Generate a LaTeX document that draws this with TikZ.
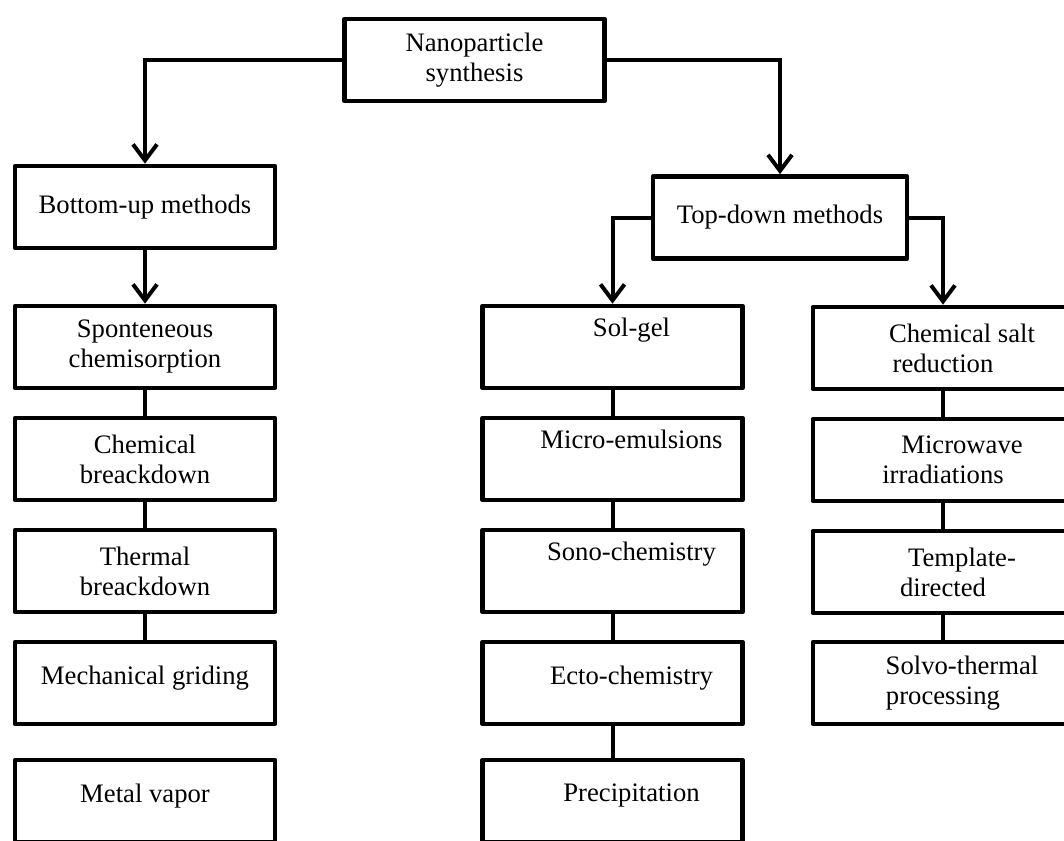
\documentclass[tikz,border=0pt]{standalone}
\usepackage{fontspec}
\setmainfont{Liberation Serif}
\usetikzlibrary{arrows.meta}
\newcommand{\tbindent}{\hspace*{28.5pt}}

\begin{document}
\begin{tikzpicture}[x=0.75pt,y=-0.75pt,font=\fontsize{20}{22.5}\selectfont,
  box/.style={draw,line width=3.5pt,line join=round,minimum width=195pt,minimum height=61.5pt,inner sep=0pt,align=center},
  lift/.style={text depth=12pt},
  conn/.style={line width=3pt},
  arr/.style={conn,-{Straight Barb[length=12pt,width=18pt]}}]
  \useasboundingbox (0,0) rectangle (1064,840);
  \clip (0,0) rectangle (1064,840);
  % Root and the two families
  \node[box] (nps) at (474.5,60) {Nanoparticle\\synthesis};
  \node[box] (bup) at (145,207) {Bottom-up methods};
  \node[box,minimum width=190.5pt] (tdn) at (780,217.5) {Top-down methods};
  % Bottom-up column
  \node[box] (spc) at (145,347) {Sponteneous\\chemisorption};
  \node[box] (chb) at (145,459) {Chemical\\breackdown};
  \node[box] (thb) at (145,571) {Thermal\\breackdown};
  \node[box,lift] (mgr) at (145,683) {Mechanical griding};
  \node[box,lift] (mvp) at (145,801) {Metal vapor};
  % Top-down, first column
  \node[box] (slg) at (612.5,347) {\tbindent Sol-gel\\\strut};
  \node[box] (mem) at (612.5,459) {\tbindent Micro-emulsions\\\strut};
  \node[box] (son) at (612.5,571) {\tbindent Sono-chemistry\\\strut};
  \node[box,lift] (ect) at (612.5,683) {\tbindent Ecto-chemistry};
  \node[box,lift] (pre) at (612.5,801) {\tbindent Precipitation};
  % Top-down, second column
  \node[box] (csr) at (943,348) {\tbindent Chemical salt\\reduction};
  \node[box] (mwi) at (943,460) {\tbindent Microwave\\irradiations};
  \node[box] (tpd) at (943,572) {\tbindent Template-\\directed};
  \node[box] (stp) at (943,683) {\tbindent Solvo-thermal\\processing};
  % Branches
  \draw[arr] (nps.west) -| (bup.north);
  \draw[arr] (nps.east) -| (tdn.north);
  \draw[arr] (bup) -- (spc);
  \draw[arr] (tdn.west) -| (slg.north);
  \draw[arr] (tdn.east) -| (csr.north);
  % Links inside the columns
  \draw[conn] (spc) -- (chb);
  \draw[conn] (chb) -- (thb);
  \draw[conn] (thb) -- (mgr);
  \draw[conn] (slg) -- (mem);
  \draw[conn] (mem) -- (son);
  \draw[conn] (son) -- (ect);
  \draw[conn] (ect) -- (pre);
  \draw[conn] (csr) -- (mwi);
  \draw[conn] (mwi) -- (tpd);
  \draw[conn] (tpd) -- (stp);
\end{tikzpicture}
\end{document}
